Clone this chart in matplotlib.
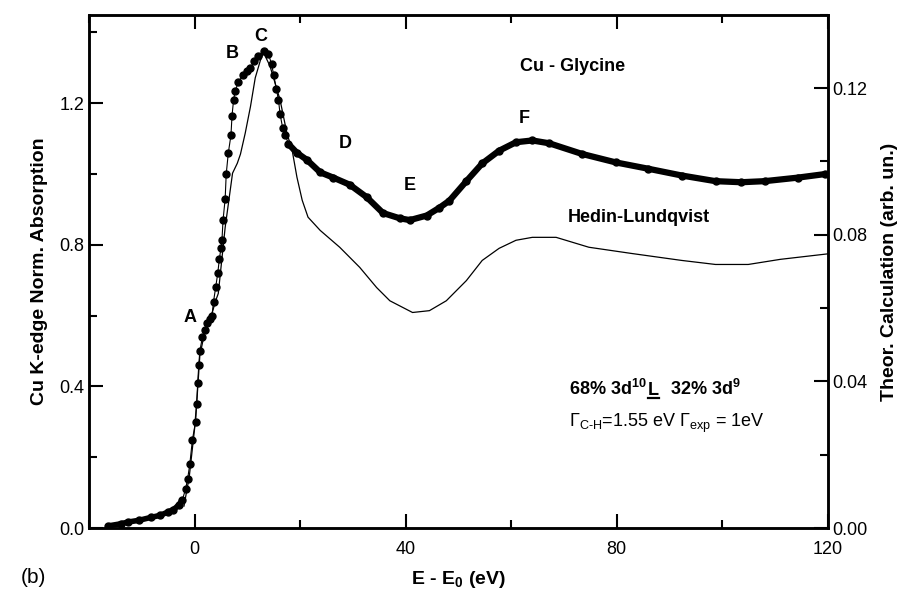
import matplotlib
matplotlib.use("Agg")
import matplotlib.pyplot as plt
import matplotlib.ticker as ticker
from matplotlib.lines import Line2D
import numpy as np

plt.rcParams['font.family'] = ['Liberation Sans', 'DejaVu Sans']
plt.rcParams['mathtext.fontset'] = 'custom'
plt.rcParams['mathtext.rm'] = 'Liberation Sans'
plt.rcParams['mathtext.bf'] = 'Liberation Sans:bold'
plt.rcParams['mathtext.it'] = 'Liberation Sans:italic'

# experimental Cu K-edge (left axis)
exp_e = [-16.4, -14.0, -12.6, -10.5, -8.3, -6.5, -5.1, -4.0, -3.0, -2.3,
         -1.7, -1.3, -0.9, -0.4, 0.2, 0.4, 0.6, 0.8, 1.0, 1.5,
         2.0, 2.4, 3.0, 3.3, 3.6, 4.0, 4.4, 4.7, 5.0, 5.2,
         5.4, 5.8, 6.0, 6.4, 6.9, 7.1, 7.4, 7.7, 8.3, 9.2,
         10.0, 10.6, 11.3, 12.1, 13.1, 14.0, 14.6, 15.0, 15.5, 15.9,
         16.2, 16.7, 17.2, 17.8, 19.4, 21.3, 23.8, 26.3, 29.4, 32.6,
         35.7, 38.9, 40.8, 44.0, 46.4, 48.3, 51.5, 54.5, 57.7, 60.9,
         64.0, 67.2, 73.4, 79.8, 86.0, 92.3, 98.7, 103.6, 108.0, 114.3,
         119.4]
exp_mu = [0.006, 0.012, 0.017, 0.022, 0.030, 0.036, 0.045, 0.052, 0.065, 0.080,
          0.110, 0.140, 0.180, 0.250, 0.300, 0.350, 0.410, 0.460, 0.500, 0.540,
          0.560, 0.580, 0.590, 0.600, 0.640, 0.680, 0.720, 0.760, 0.790, 0.815,
          0.870, 0.930, 1.000, 1.060, 1.110, 1.165, 1.210, 1.235, 1.260, 1.280,
          1.290, 1.300, 1.320, 1.335, 1.348, 1.340, 1.310, 1.280, 1.240, 1.210,
          1.170, 1.130, 1.110, 1.085, 1.060, 1.040, 1.005, 0.990, 0.970, 0.935,
          0.890, 0.875, 0.870, 0.883, 0.905, 0.925, 0.980, 1.030, 1.066, 1.090,
          1.095, 1.087, 1.057, 1.033, 1.015, 0.996, 0.980, 0.977, 0.980, 0.990,
          1.000]

# Hedin-Lundqvist calculation (right axis)
theo_e = [-2.0, -1.0, 0.0, 0.5, 1.0, 2.0, 3.0, 4.0, 4.5, 5.8,
          7.2, 8.1, 8.7, 9.6, 10.6, 11.5, 12.5, 13.1, 14.3, 16.2,
          17.5, 18.5, 19.4, 20.4, 21.5, 23.8, 27.5, 31.3, 34.5, 37.0,
          41.3, 44.5, 47.7, 51.5, 54.5, 57.7, 60.9, 64.0, 68.5, 74.7,
          82.8, 92.3, 98.7, 104.9, 111.0, 119.4, 120.0]
theo_mu = [0.006, 0.014, 0.027, 0.036, 0.047, 0.054, 0.057, 0.062, 0.064, 0.082,
           0.0968, 0.0995, 0.102, 0.1077, 0.115, 0.1228, 0.1277, 0.1296, 0.126, 0.1168,
           0.1077, 0.103, 0.0957, 0.0894, 0.0848, 0.0812, 0.0766, 0.0711, 0.0656, 0.062,
           0.0588, 0.0593, 0.062, 0.0675, 0.073, 0.0763, 0.0785, 0.0793, 0.0793, 0.0766,
           0.0749, 0.073, 0.0719, 0.0719, 0.0733, 0.0747, 0.0748]

peak_labels = ['A', 'B', 'C', 'D', 'E', 'F']
peak_x = [-0.8, 7.2, 12.6, 28.5, 40.8, 62.5]
peak_y = [0.595, 1.34, 1.39, 1.086, 0.967, 1.157]

fig = plt.figure(figsize=(9.23, 5.92), dpi=100)
ax = fig.add_axes([0.0964, 0.108, 0.8006, 0.867])
ax2 = ax.twinx()

e = np.array(exp_e)
mu = np.array(exp_mu)
pre = e < -2.0
post = e > 17.5
ax.plot(e, mu, '-', color='k', lw=0.8)
ax.plot(e[pre], mu[pre], '-', color='k', lw=4.0, solid_capstyle='round')
ax.plot(e[post], mu[post], '-', color='k', lw=4.5, solid_capstyle='round')
ax.plot(e, mu, 'o', color='k', ms=5)

ax2.plot(theo_e, theo_mu, '-', color='k', lw=0.9)

ax.set_xlim(-20, 120)
ax.set_ylim(0, 1.45)
ax2.set_ylim(0, 0.14)

ax.xaxis.set_major_locator(ticker.MultipleLocator(40))
ax.xaxis.set_minor_locator(ticker.MultipleLocator(20))
ax.yaxis.set_major_locator(ticker.MultipleLocator(0.4))
ax.yaxis.set_minor_locator(ticker.MultipleLocator(0.2))
ax.yaxis.set_major_formatter(ticker.FormatStrFormatter('%.1f'))
ax2.yaxis.set_major_locator(ticker.MultipleLocator(0.04))
ax2.yaxis.set_minor_locator(ticker.MultipleLocator(0.02))
ax2.yaxis.set_major_formatter(ticker.FormatStrFormatter('%.2f'))

ax.tick_params(axis='both', which='both', direction='in', labelsize=13, width=1.5)
ax.tick_params(axis='x', which='both', top=True, pad=9)
ax.tick_params(which='major', length=10)
ax.tick_params(which='minor', length=6)
ax.tick_params(axis='y', which='both', right=False)
ax2.tick_params(axis='y', which='both', direction='in', labelsize=13, width=1.5, pad=3)
ax2.tick_params(which='major', length=10)
ax2.tick_params(which='minor', length=6)
for a in (ax, ax2):
    for s in a.spines.values():
        s.set_linewidth(1.8)

ax.set_ylabel('Cu K-edge Norm. Absorption', fontsize=14, fontweight='bold', labelpad=8)
ax2.set_ylabel('Theor. Calculation (arb. un.)', fontsize=14, fontweight='bold', labelpad=10)
ax.set_xlabel(r'E - E$_\mathbf{0}$ (eV)', fontsize=14, fontweight='bold', labelpad=8)

for lab, px, py in zip(peak_labels, peak_x, peak_y):
    ax.text(px, py, lab, fontsize=13, fontweight='bold', ha='center', va='center')

ax.text(71.7, 1.303, 'Cu - Glycine', fontsize=13, fontweight='bold', ha='center', va='center')
ax.text(84.2, 0.877, 'Hedin-Lundqvist', fontsize=13, fontweight='bold', ha='center', va='center')

# composition line with underlined L, built from pieces
fig.canvas.draw()
r = fig.canvas.get_renderer()
t1 = ax.text(71.0, 0.375, r'68% 3d$^{\mathbf{10}}$', fontsize=13,
             fontweight='bold', ha='left', va='baseline')
bb1 = t1.get_window_extent(r)
x0, y0 = ax.transData.transform((71.0, 0.375))
tL = ax.text(bb1.x1 + 1, y0, 'L', fontsize=13, fontweight='bold',
             ha='left', va='baseline', transform=None)
bbL = tL.get_window_extent(r)
ax.add_line(Line2D([bbL.x0, bbL.x1], [y0 - 3, y0 - 3], color='k', lw=1.6,
                   transform=None))
ax.text(bbL.x1 + 1, y0, r'  32% 3d$^{\mathbf{9}}$', fontsize=13,
        fontweight='bold', ha='left', va='baseline', transform=None)

ax.text(71.0, 0.285, r'$\Gamma_{\text{C-H}}$=1.55 eV $\Gamma_{\mathrm{exp}}$ = 1eV',
        fontsize=13, ha='left', va='baseline')

fig.text(0.022, 0.025, '(b)', fontsize=15, ha='left', va='center')

fig.savefig('out.png', dpi=100)
